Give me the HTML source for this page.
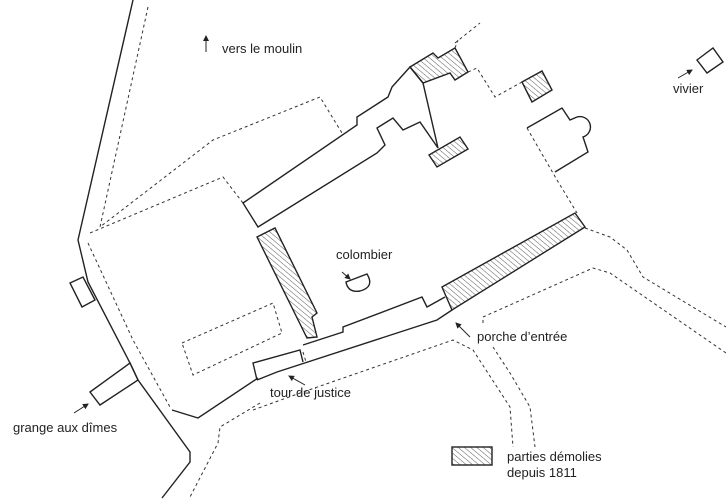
<!DOCTYPE html>
<html><head><meta charset="utf-8"><style>
html,body{margin:0;padding:0;background:#fff;}
svg{display:block;}
text{font-family:"Liberation Sans",sans-serif;font-size:13px;fill:#222;}
</style></head><body>
<svg width="726" height="499" viewBox="0 0 726 499" xmlns="http://www.w3.org/2000/svg">
<defs>
<pattern id="h" patternUnits="userSpaceOnUse" width="4" height="4" patternTransform="rotate(40)">
<line x1="0" y1="0" x2="4" y2="0" stroke="#333" stroke-width="0.8"/>
</pattern>
<marker id="a" markerWidth="6" markerHeight="6" refX="5" refY="3" orient="auto"><path d="M0,0 L6,3 L0,6z" fill="#222"/></marker>
</defs>
<g fill="none" stroke="#222" stroke-width="1.4" stroke-linejoin="miter">
<polyline points="133,0 78,240 88,282 130,363 138,380 190,452 190,462 162,498"/>
<polyline points="172,410 198,418 258,378"/>
<polygon points="243,203 357,125 357,117 388,97 392,87 410,67 423,83 438,148 420,122 403,130 393,118 377,128 385,145 377,153 258,227"/>
<polygon points="410,67 433,53 438,58 455,48 468,72 455,80 450,73 423,83" fill="url(#h)"/>
<polygon points="429,155 460,137 468,149 437,167" fill="url(#h)"/>
<polygon points="522,82 542,71 552,90 532,102" fill="url(#h)"/>
<path d="M527,128 L562,108 L570,120 L577,117 A10,10 0 0 1 583,137 L588,152 L555,172"/>
<polygon points="442,287 575,213 585,227 452,310" fill="url(#h)"/>
<polyline points="303,345 343,332 343,327 422,297 427,307 445,297"/>
<polyline points="257,380 277,372 437,320 452,310"/>
<polyline points="303,362 300,350 253,363 257,380"/>
<polygon points="257,237 275,228 317,313 312,317 317,337 307,338" fill="url(#h)"/>
<path d="M346,282 L367,274 Q375,287 360,291 Q348,293 346,282 Z"/>
<polygon points="70,283 83,277 95,300 82,307"/>
<polygon points="90,392 130,363 138,380 100,405"/>
<polygon points="697,60 713,48 723,62 707,73"/>
<rect x="452" y="447" width="40" height="18" fill="url(#h)"/>
</g>
<g fill="none" stroke="#333" stroke-width="1" stroke-dasharray="3,3">
<polyline points="148,7 100,227 213,140 320,97 342,133"/>
<polyline points="90,233 223,177 243,203"/>
<polyline points="88,243 133,340 170,407"/>
<polygon points="182,343 273,303 282,333 193,375"/>
<polyline points="468,72 477,68 495,97 522,82"/>
<polyline points="455,48 458,40"/>
<polyline points="455,43 480,23"/>
<polyline points="527,128 557,180 577,213"/>
<polyline points="585,228 610,237 627,250 643,277 726,327"/>
<polyline points="483,323 483,317 593,268 610,273 726,353"/>
<polyline points="253,410 303,392 453,340 473,350 510,407 513,447"/>
<polyline points="493,347 510,373 530,407 535,447"/>
<polyline points="260,403 220,427 218,443 190,497"/>
<polyline points="303,352 306,362"/>
</g>
<g stroke="#222" stroke-width="1" fill="none">
<line x1="206" y1="52" x2="206" y2="36" marker-end="url(#a)"/>
<line x1="678" y1="78" x2="692" y2="70" marker-end="url(#a)"/>
<line x1="342" y1="272" x2="350" y2="279" marker-end="url(#a)"/>
<line x1="470" y1="337" x2="456" y2="323" marker-end="url(#a)"/>
<line x1="305" y1="385" x2="289" y2="376" marker-end="url(#a)"/>
<line x1="74" y1="413" x2="88" y2="404" marker-end="url(#a)"/>
</g>
<text x="222" y="53">vers le moulin</text>
<text x="673" y="93">vivier</text>
<text x="336" y="259">colombier</text>
<text x="477" y="341">porche d’entrée</text>
<text x="270" y="397">tour de justice</text>
<text x="13" y="432">grange aux dîmes</text>
<text x="507" y="461">parties démolies</text>
<text x="507" y="477">depuis 1811</text>
</svg>
</body></html>
